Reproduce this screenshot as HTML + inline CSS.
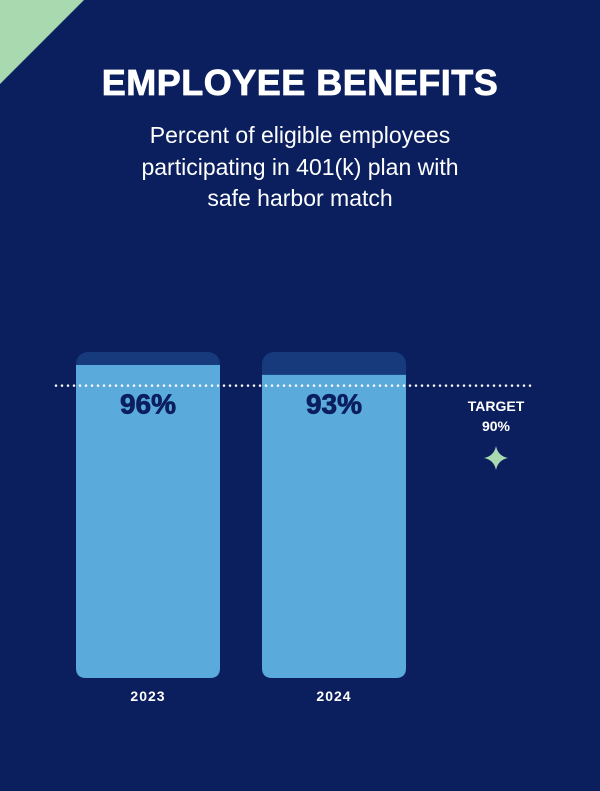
<!DOCTYPE html>
<html><head><meta charset="utf-8"><style>
body{margin:0;width:600px;height:791px;background:#0b1f5f;overflow:hidden;font-family:"Liberation Sans",sans-serif}
</style></head><body>
<svg width="600" height="791" style="position:absolute;left:0;top:0">
<polygon points="0,0 84,0 0,84" fill="#a9d9ae"/>
<text x="300" y="95" text-anchor="middle" fill="#fff" font-size="36" font-weight="900" letter-spacing="0.5" stroke="#fff" stroke-width="0.8">EMPLOYEE BENEFITS</text>
<g fill="#fff" font-size="23" text-anchor="middle">
<text x="300" y="143">Percent of eligible employees</text>
<text x="300" y="175">participating in 401(k) plan with</text>
<text x="300" y="206">safe harbor match</text>
</g>
<g id="bars"></g>
</svg>
<script>
const categories=["2023","2024"];
const values=[96,93];
const target=90;
const svg=document.getElementById('bars');
const NS='http://www.w3.org/2000/svg';
const y0=678,y100=352;
function y(v){return y0-(v/100)*(y0-y100);}
const xs=[76,262],bw=144;
function mk(t,a){const e=document.createElementNS(NS,t);for(const k in a)e.setAttribute(k,a[k]);svg.appendChild(e);return e;}
categories.forEach((c,i)=>{
 const x=xs[i];
 const tr=mk('rect',{x:x,y:y100,width:bw,height:y0-y100,rx:12,fill:'#163a7c'});
 
 
 const top=y(values[i]);
 const p=mk('path',{d:`M${x},${top}H${x+bw}V${y0-10}Q${x+bw},${y0} ${x+bw-10},${y0}H${x+10}Q${x},${y0} ${x},${y0-10}Z`,fill:'#5aaadc'});
 
 
 const t=mk('text',{x:x+bw/2,y:y(target)+29,'text-anchor':'middle',fill:'#0b1f5f','font-size':28,'font-weight':900,stroke:'#0b1f5f','stroke-width':0.8});
 t.textContent=values[i]+'%';
 
 
 const l=mk('text',{x:x+bw/2,y:701,'text-anchor':'middle',fill:'#fff','font-size':14,'font-weight':700,'letter-spacing':1});
 l.textContent=c;
 
 
});
const ty=y(target)+1;
const ln=mk('line',{x1:56,x2:534,y1:ty,y2:ty,stroke:'#fff','stroke-width':2.5,'stroke-dasharray':'0 6','stroke-linecap':'round'});


const t1=mk('text',{x:496,y:411,'text-anchor':'middle',fill:'#fff','font-size':14,'font-weight':700});
t1.textContent='TARGET';


const t2=mk('text',{x:496,y:431,'text-anchor':'middle',fill:'#fff','font-size':14,'font-weight':700});
t2.textContent=target+'%';


const st=mk('path',{d:'M496,446 Q498,456 508,458 Q498,460 496,470 Q494,460 484,458 Q494,456 496,446Z',fill:'#a9d9ae'});


</script>
</body></html>
